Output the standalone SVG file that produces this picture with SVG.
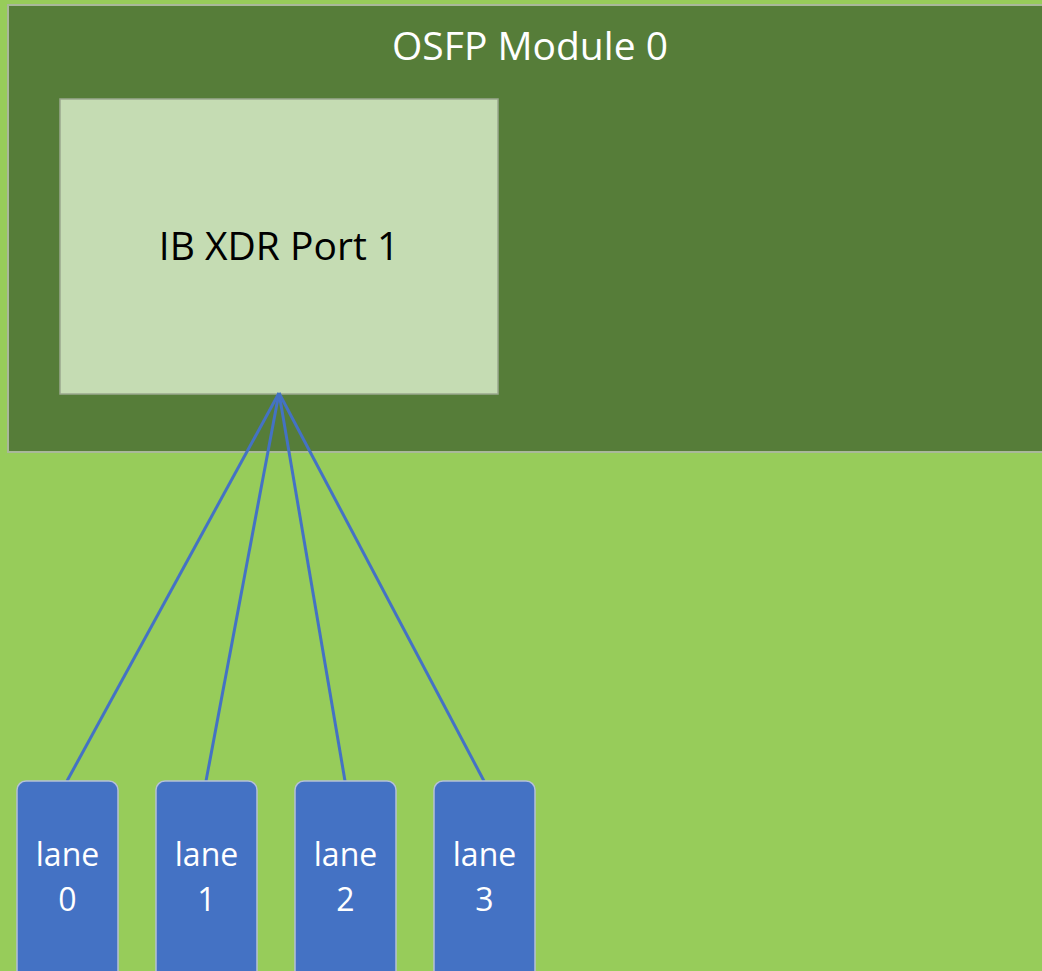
<svg xmlns="http://www.w3.org/2000/svg" width="1042" height="971" viewBox="0 0 1042 971">
<style>
.lane{fill:#4472C4;stroke:#b4c0d8;stroke-width:1.5}
.lt{font-family:"Open Sans","Liberation Sans",sans-serif;font-size:32px;fill:#ffffff;text-anchor:middle}
.conn{stroke:#4472C4;stroke-width:3;fill:none}
</style>
<rect x="0" y="0" width="1042" height="971" fill="#97CC5A"/>
<g id="module">
<rect x="8" y="5" width="1040" height="447" fill="#567D39" stroke="#a9b89a" stroke-width="2"/>
<text x="530" y="60" font-family="'Open Sans','Liberation Sans',sans-serif" font-size="39" fill="#ffffff" text-anchor="middle">OSFP Module 0</text>
</g>
<g id="port">
<rect x="60" y="99" width="438" height="295" fill="#C5DCB3" stroke="#9aa88e" stroke-width="1.5"/>
<text x="279" y="260" font-family="'Open Sans','Liberation Sans',sans-serif" font-size="39" fill="#000000" text-anchor="middle">IB XDR Port 1</text>
</g>
<g id="connectors">
<line class="conn" x1="279" y1="393" x2="67" y2="781"/>
<line class="conn" x1="279" y1="393" x2="206" y2="781"/>
<line class="conn" x1="279" y1="393" x2="345" y2="781"/>
<line class="conn" x1="279" y1="393" x2="484" y2="781"/>
</g>
<g id="lane0"><rect class="lane" x="17" y="781" width="101" height="200" rx="9"/><text class="lt" x="67.5" y="866">lane</text><text class="lt" x="67.5" y="911">0</text></g>
<g id="lane1"><rect class="lane" x="156" y="781" width="101" height="200" rx="9"/><text class="lt" x="206.5" y="866">lane</text><text class="lt" x="206.5" y="911">1</text></g>
<g id="lane2"><rect class="lane" x="295" y="781" width="101" height="200" rx="9"/><text class="lt" x="345.5" y="866">lane</text><text class="lt" x="345.5" y="911">2</text></g>
<g id="lane3"><rect class="lane" x="434" y="781" width="101" height="200" rx="9"/><text class="lt" x="484.5" y="866">lane</text><text class="lt" x="484.5" y="911">3</text></g>
</svg>
